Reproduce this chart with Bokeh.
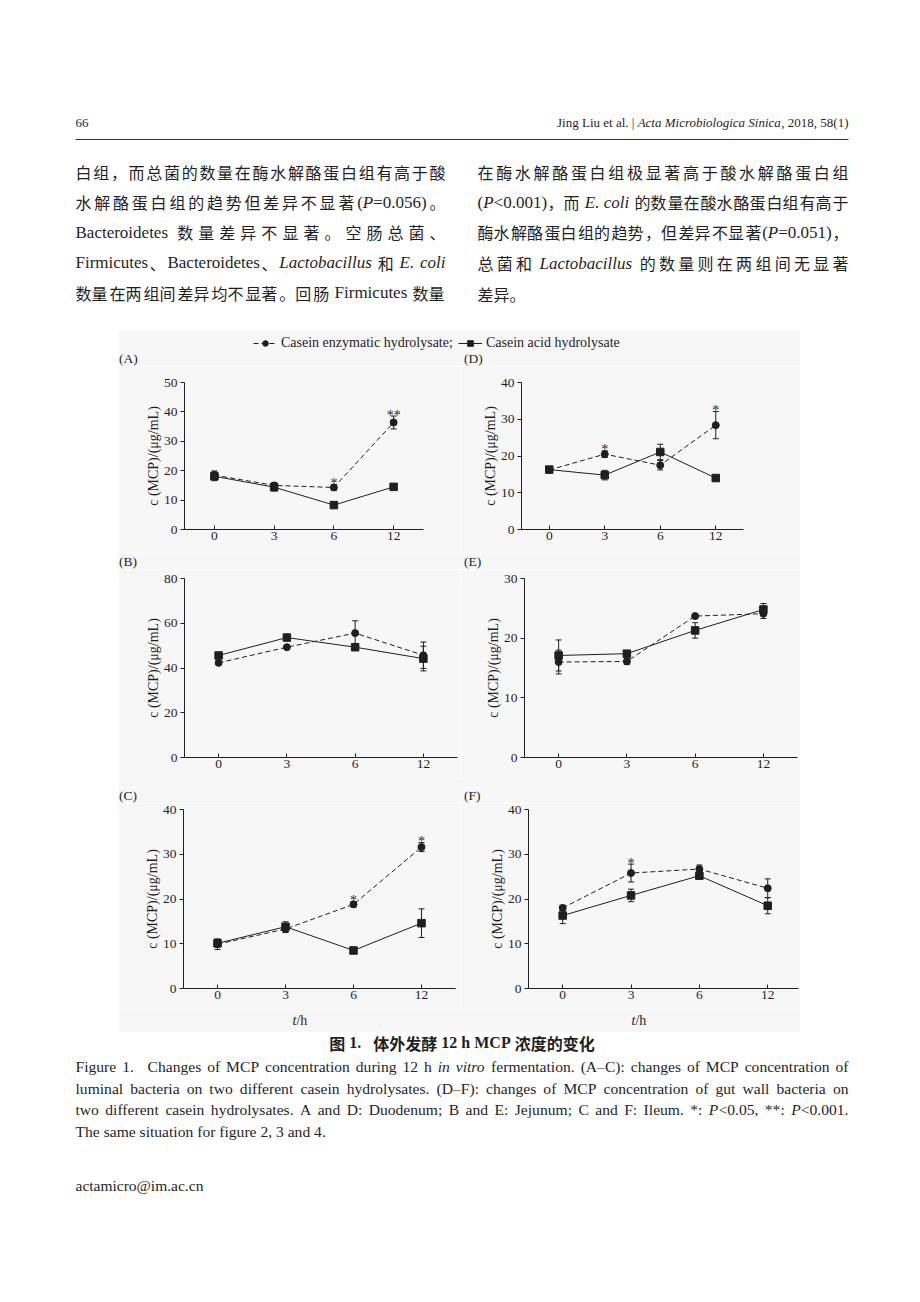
import math
from bokeh.plotting import figure
from bokeh.models import Range1d, FixedTicker, Legend, LegendItem, ColumnDataSource, Spacer
from bokeh.layouts import column, row
from bokeh.core.properties import value
from bokeh.embed import file_html
from bokeh.resources import INLINE

# ---------------- data ----------------
times = ["0", "3", "6", "12"]
series_names = ["Casein enzymatic hydrolysate;", "Casein acid hydrolysate"]
y_label = "c (MCP)/(μg/mL)"

enz_A = [18.5, 15.0, 14.3, 36.4]
enz_A_err = [1.4, 0.9, 1.0, 2.2]
acid_A = [18.1, 14.4, 8.3, 14.5]
acid_A_err = [1.5, 1.3, 0.5, 0.4]
sig_A = ["", "", "*", "**"]

enz_B = [42.3, 49.3, 55.6, 45.7]
enz_B_err = [0.8, 0.8, 5.5, 5.9]
acid_B = [45.6, 53.6, 49.3, 44.2]
acid_B_err = [0.8, 0.8, 0.8, 5.5]
sig_B = ["", "", "", ""]

enz_C = [9.9, 13.3, 18.8, 31.6]
enz_C_err = [1.2, 0.8, 0.6, 1.0]
acid_C = [10.1, 13.8, 8.5, 14.6]
acid_C_err = [0.8, 1.1, 0.4, 3.2]
sig_C = ["", "", "*", "*"]

enz_D = [16.2, 20.5, 17.5, 28.4]
enz_D_err = [0.4, 0.9, 1.3, 3.7]
acid_D = [16.3, 14.8, 21.1, 14.0]
acid_D_err = [0.4, 1.3, 2.1, 0.3]
sig_D = ["", "*", "", "*"]

enz_E = [16.0, 16.1, 23.7, 24.1]
enz_E_err = [2.0, 0.5, 0.3, 0.8]
acid_E = [17.1, 17.4, 21.3, 24.8]
acid_E_err = [2.6, 0.3, 1.3, 1.0]
sig_E = ["", "", "", ""]

enz_F = [18.0, 25.8, 26.7, 22.4]
enz_F_err = [0.6, 2.0, 0.9, 2.1]
acid_F = [16.3, 20.8, 25.2, 18.5]
acid_F_err = [1.8, 1.4, 0.4, 1.8]
sig_F = ["", "*", "", ""]

y_max = {"A": 50, "B": 80, "C": 40, "D": 40, "E": 30, "F": 40}
y_step = {"A": 10, "B": 20, "C": 10, "D": 10, "E": 10, "F": 10}

# ---------------- style ----------------
SERIF = "Liberation Serif"
CJK = "Noto Sans CJK SC"
INK = "#1f1f1f"
BG = "#f7f7f7"
RIGHT = 848

_R = {" ": 250, "!": 333, "(": 333, ")": 333, "*": 500, "+": 564, ",": 250, "-": 333, ".": 250,
      "/": 278, ":": 278, ";": 278, "<": 564, "=": 564, ">": 564, "@": 921, "|": 200, "–": 500,
      "A": 722, "B": 667, "C": 667, "D": 722, "E": 611, "F": 556, "G": 722, "H": 722, "I": 333,
      "J": 389, "K": 722, "L": 611, "M": 889, "N": 722, "O": 722, "P": 556, "Q": 722, "R": 667,
      "S": 556, "T": 611, "U": 722, "V": 722, "W": 944, "X": 722, "Y": 722, "Z": 611,
      "a": 444, "b": 500, "c": 444, "d": 500, "e": 444, "f": 333, "g": 500, "h": 500, "i": 278,
      "j": 278, "k": 500, "l": 278, "m": 778, "n": 500, "o": 500, "p": 500, "q": 500, "r": 333,
      "s": 389, "t": 278, "u": 500, "v": 500, "w": 722, "x": 500, "y": 500, "z": 444}
_I = dict(_R)
_I.update({"A": 611, "B": 611, "E": 611, "F": 611, "L": 556, "M": 833, "N": 667, "P": 611,
           "S": 500, "T": 556, "a": 500, "k": 444, "m": 722, "r": 389, "v": 444, "w": 667,
           "x": 444, "y": 444, "z": 389, "f": 278})
_B = dict(_R)
_B.update({"h": 556, "M": 944, "C": 722, "P": 611, ".": 250, " ": 250})


def lat_w(s, size, style):
    tab = _I if style == "italic" else (_B if style == "bold" else _R)
    return sum(tab.get(c, 500) for c in s) * size / 1000.0


def is_cjk(ch):
    return ord(ch) >= 0x2E80


def put(p, x, y, s, size, font=SERIF, style="normal", align="left", color=INK):
    p.text(x=[x], y=[y], text=[s], text_font=value(font), text_font_size=value(f"{size:.2f}px"),
           text_font_style=value(style), text_align=value(align), text_baseline=value("middle"),
           text_color=color)


def typeset(p, markup, x0, y, lat_size, cjk_size, x1=None, base_style="normal", tol=1.0,
            cjk_tol=1.0, anchor="left"):
    """Lay out a line of mixed CJK/Latin text (_..._ = italic); justify to x1 when given."""
    boxes, glues = [], []
    state = {"sp": 0.0, "n": 0}

    def add(text, kind, style):
        w = cjk_size * len(text) if kind == "cjk" else lat_w(text, lat_size, style)
        if boxes:
            prev = boxes[-1]
            stretch = state["n"] > 0 or kind == "cjk" or prev["kind"] == "cjk"
            glues.append(dict(nat=state["sp"], n=state["n"], stretch=stretch))
        boxes.append(dict(text=text, kind=kind, style=style, w=w))
        state["sp"], state["n"] = 0.0, 0

    italic = False
    cur = ""
    for ch in markup:
        st = "italic" if italic else base_style
        if ch == "_":
            if cur:
                add(cur, "lat", st)
                cur = ""
            italic = not italic
        elif ch == " ":
            if cur:
                add(cur, "lat", st)
                cur = ""
            state["sp"] += lat_w(" ", lat_size, "normal")
            state["n"] += 1
        elif is_cjk(ch):
            if cur:
                add(cur, "lat", st)
                cur = ""
            add(ch, "cjk", base_style)
        else:
            cur += ch
    if cur:
        add(cur, "lat", "italic" if italic else base_style)

    natural = sum(b["w"] for b in boxes) + sum(g["nat"] for g in glues)
    nst = sum(1 for g in glues if g["stretch"])
    extra = 0.0
    if x1 is not None and nst:
        extra = (x1 - x0 - natural) / nst
    if anchor == "center":
        x0 = x0 - natural / 2
    elif anchor == "right":
        x0 = x0 - natural
    x = x0
    for i, b in enumerate(boxes):
        b["x"] = x
        x += b["w"]
        if i < len(glues):
            x += glues[i]["nat"] + (extra if glues[i]["stretch"] else 0)
    i = 0
    while i < len(boxes):
        b = boxes[i]
        text = b["text"]
        drift = 0.0
        lim = cjk_tol if b["kind"] == "cjk" else tol
        j = i + 1
        while j < len(boxes):
            nb, g = boxes[j], glues[j - 1]
            if nb["kind"] != b["kind"] or nb["style"] != b["style"]:
                break
            d = abs(extra) if g["stretch"] else 0.0
            if drift + d > lim:
                break
            drift += d
            text += " " * g["n"] + nb["text"]
            j += 1
        if b["kind"] == "cjk":
            put(p, b["x"], y, text, cjk_size, font=CJK, style=b["style"])
        else:
            put(p, b["x"], y, text, lat_size, font=SERIF, style=b["style"])
        i = j
    return natural


def page_fig(w, h, x0, y0, bg="white"):
    p = figure(width=w, height=h, x_range=Range1d(x0, x0 + w), y_range=Range1d(y0 + h, y0),
               output_backend="svg", toolbar_location=None, min_border=0,
               x_axis_location=None, y_axis_location=None,
               background_fill_color=bg, border_fill_color=bg, outline_line_color=None)
    p.grid.visible = False
    return p


# ---------------- header + body text ----------------
head = page_fig(904, 330, 0, 0)
put(head, 75, 122, "66", 13)
typeset(head, "Jing Liu et al. | _Acta Microbiologica Sinica_, 2018, 58(1)", RIGHT, 122, 13, 13,
        anchor="right")
head.line(x=[75, RIGHT], y=[139, 139], line_color="#333333", line_width=1)

LAT, CJS = 17, 16
left_lines = [
    "白组，而总菌的数量在酶水解酪蛋白组有高于酸",
    "水解酪蛋白组的趋势但差异不显著(_P_=0.056)。",
    "Bacteroidetes 数量差异不显著。空肠总菌、",
    "Firmicutes、Bacteroidetes、_Lactobacillus_ 和 _E. coli_",
    "数量在两组间差异均不显著。回肠 Firmicutes 数量",
]
right_lines = [
    "在酶水解酪蛋白组极显著高于酸水解酪蛋白组",
    "(_P_<0.001)，而 _E. coli_ 的数量在酸水酪蛋白组有高于",
    "酶水解酪蛋白组的趋势，但差异不显著(_P_=0.051)，",
    "总菌和 _Lactobacillus_ 的数量则在两组间无显著",
    "差异。",
]
yl = [171, 201.5, 231.5, 262, 292]
yr = [171, 201.5, 231.5, 262.5, 293]
for s, y in zip(left_lines, yl):
    typeset(head, s, 75, y, LAT, CJS, x1=445)
for k, (s, y) in enumerate(zip(right_lines, yr)):
    typeset(head, s, 477, y, LAT, CJS, x1=(RIGHT if k < 4 else None))

# ---------------- strips (legend, panel letters, t/h) ----------------
def strip(y0, h):
    p = figure(width=682, height=h, x_range=Range1d(118, 800), y_range=Range1d(y0 + h, y0),
               output_backend="svg", toolbar_location=None, min_border=0,
               x_axis_location=None, y_axis_location=None,
               background_fill_color=BG, border_fill_color=BG, outline_line_color=None)
    p.grid.visible = False
    return p


s1 = strip(330, 36)
nan_src = ColumnDataSource(dict(x=[math.nan], y=[math.nan]))
l_enz = s1.line("x", "y", source=nan_src, line_color=INK, line_width=1, line_dash="5 3")
m_enz = s1.scatter("x", "y", source=nan_src, marker="circle", size=7, fill_color=INK, line_color=INK)
l_acid = s1.line("x", "y", source=nan_src, line_color=INK, line_width=1)
m_acid = s1.scatter("x", "y", source=nan_src, marker="square", size=7, fill_color=INK, line_color=INK)
for (rs, name, loc) in [([l_enz, m_enz], series_names[0], (135, 15)),
                        ([l_acid, m_acid], series_names[1], (340, 15))]:
    lg = Legend(items=[LegendItem(label=name, renderers=rs)], location=loc, orientation="horizontal",
                glyph_width=24, glyph_height=14, label_height=14, label_standoff=4, padding=0,
                margin=0, spacing=0, border_line_alpha=0, background_fill_alpha=0,
                label_text_font=SERIF, label_text_font_size="14px", label_text_color=INK)
    s1.add_layout(lg)
put(s1, 118.5, 358, "(A)", 13.5)
put(s1, 463.5, 358, "(D)", 13.5)

s2 = strip(552, 17)
put(s2, 118.5, 560.5, "(B)", 13.5)
put(s2, 463.5, 560.5, "(E)", 13.5)

s3 = strip(778, 25)
put(s3, 118.5, 795, "(C)", 13.5)
put(s3, 463.5, 795, "(F)", 13.5)

s4 = strip(1008, 24)
typeset(s4, "_t_/h", 292, 1020, 14, 14)
typeset(s4, "_t_/h", 631, 1020, 14, 14)

# ---------------- panels ----------------
data = {
    "A": (enz_A, enz_A_err, acid_A, acid_A_err, sig_A),
    "B": (enz_B, enz_B_err, acid_B, acid_B_err, sig_B),
    "C": (enz_C, enz_C_err, acid_C, acid_C_err, sig_C),
    "D": (enz_D, enz_D_err, acid_D, acid_D_err, sig_D),
    "E": (enz_E, enz_E_err, acid_E, acid_E_err, sig_E),
    "F": (enz_F, enz_F_err, acid_F, acid_F_err, sig_F),
}
geom = {
    "A": dict(w=342, h=186, l=66, r=37, t=8, b=23, xend=3.5),
    "D": dict(w=340, h=186, l=61, r=57, t=16, b=21, xend=3.5),
    "B": dict(w=342, h=209, l=66, r=3, t=9, b=21, xend=3.5),
    "E": dict(w=340, h=209, l=64, r=3, t=9, b=21, xend=3.5),
    "C": dict(w=342, h=205, l=65, r=5, t=6, b=20, xend=3.5),
    "F": dict(w=340, h=205, l=68, r=2, t=6, b=20, xend=3.45),
}


def make_panel(key):
    enz, enz_err, acid, acid_err, sig = data[key]
    g = geom[key]
    ymax = y_max[key]
    p = figure(width=g["w"], height=g["h"], x_range=Range1d(-0.5, g["xend"]), y_range=Range1d(0, ymax),
               output_backend="svg", toolbar_location=None,
               min_border_left=g["l"], min_border_right=g["r"], min_border_top=g["t"],
               min_border_bottom=g["b"], background_fill_color=BG, border_fill_color=BG,
               outline_line_color=None)
    p.grid.visible = False
    xs = list(range(len(times)))
    src = ColumnDataSource(dict(
        x=xs, enz=enz, acid=acid, sig=sig,
        enz_lo=[v - e for v, e in zip(enz, enz_err)], enz_hi=[v + e for v, e in zip(enz, enz_err)],
        acid_lo=[v - e for v, e in zip(acid, acid_err)], acid_hi=[v + e for v, e in zip(acid, acid_err)],
    ))
    for s in ("enz", "acid"):
        p.segment(x0="x", y0=f"{s}_lo", x1="x", y1=f"{s}_hi", source=src, line_color=INK, line_width=1)
        p.scatter(x="x", y=f"{s}_lo", source=src, marker="dash", size=6, line_color=INK, line_width=1)
        p.scatter(x="x", y=f"{s}_hi", source=src, marker="dash", size=6, line_color=INK, line_width=1)
    p.line("x", "enz", source=src, line_color=INK, line_width=1, line_dash="5 3")
    p.line("x", "acid", source=src, line_color=INK, line_width=1)
    p.scatter("x", "enz", source=src, marker="circle", size=7, fill_color=INK, line_color=INK)
    p.scatter("x", "acid", source=src, marker="square", size=7.5, fill_color=INK, line_color=INK)
    p.text(x="x", y="enz_hi", text="sig", source=src, text_align="center", text_baseline="alphabetic",
           y_offset=-1, text_font=value(SERIF), text_font_size=value("14px"), text_color=INK)

    yax = p.yaxis[0]
    yax.ticker = FixedTicker(ticks=list(range(0, ymax + 1, y_step[key])))
    yax.major_tick_out = 4
    yax.major_tick_in = 0
    yax.minor_tick_out = 0
    yax.minor_tick_in = 0
    yax.major_label_standoff = 3
    yax.axis_label = y_label
    yax.axis_label_standoff = 0
    yax.axis_label_text_font = SERIF
    yax.axis_label_text_font_size = "14px"
    yax.axis_label_text_font_style = "normal"
    yax.axis_label_text_color = INK
    xax = p.xaxis[0]
    xax.ticker = FixedTicker(ticks=xs)
    xax.major_label_overrides = {i: t for i, t in enumerate(times)}
    xax.major_tick_in = 4
    xax.major_tick_out = 0
    xax.minor_tick_out = 0
    xax.minor_tick_in = 0
    xax.major_label_standoff = 2
    for ax in (xax, yax):
        ax.axis_line_color = INK
        ax.major_tick_line_color = INK
        ax.major_label_text_font = SERIF
        ax.major_label_text_font_size = "13.5px"
        ax.major_label_text_color = INK
    return p


P = {k: make_panel(k) for k in "ABCDEF"}
mid = row(Spacer(width=118, height=702),
          column(s1, row(P["A"], P["D"], spacing=0), s2, row(P["B"], P["E"], spacing=0),
                 s3, row(P["C"], P["F"], spacing=0), s4, spacing=0),
          Spacer(width=104, height=702), spacing=0)

# ---------------- caption ----------------
cap = page_fig(904, 254, 0, 1032)
typeset(cap, "图 1.   体外发酵 12 h MCP 浓度的变化", (75 + RIGHT) / 2, 1042, 16, 16,
        base_style="bold", anchor="center")
CS = 15.6
typeset(cap, "Figure 1.   Changes of MCP concentration during 12 h _in vitro_ fermentation. "
             "(A–C): changes of MCP concentration of", 75, 1066, CS, CS, x1=RIGHT)
typeset(cap, "luminal bacteria on two different casein hydrolysates. (D–F): changes of MCP "
             "concentration of gut wall bacteria on", 75, 1087.5, CS, CS, x1=RIGHT)
typeset(cap, "two different casein hydrolysates. A and D: Duodenum; B and E: Jejunum; C and F: "
             "Ileum. *: _P_<0.05, **: _P_<0.001.", 75, 1109, CS, CS, x1=RIGHT)
typeset(cap, "The same situation for figure 2, 3 and 4.", 75, 1131, CS, CS)
put(cap, 75, 1185, "actamicro@im.ac.cn", 15.5)

page = column(head, mid, cap, spacing=0)
open("out.html", "w").write(file_html(page, INLINE))
